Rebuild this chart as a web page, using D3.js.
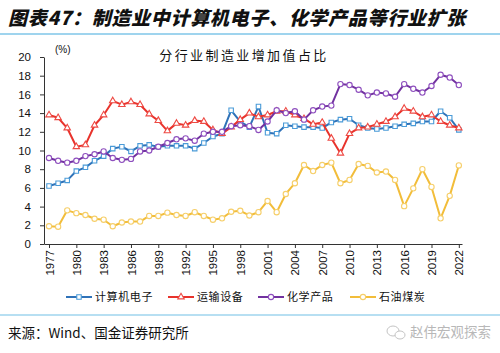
<!DOCTYPE html>
<html>
<head>
<meta charset="utf-8">
<script src="https://cdn.jsdelivr.net/npm/d3@7"></script>
<style>
  body { margin: 0; background: #fff; }
  svg { display: block; }
</style>
</head>
<body>
<div id="chart"></div>
<script>
(function() {

    // years on the x axis
    var years = d3.range(1977, 2023);
    var xTicks = d3.range(1977, 2023, 3);
    var yTicks = d3.range(0, 21, 2);

    // series values (%)
    var computer = [6.2, 6.5, 6.8, 7.8, 8.2, 8.9, 9.4, 10.2, 10.4, 9.9,
        10.5, 10.6, 10.4, 10.5, 10.5, 10.5, 10.2, 10.8, 11.5, 11.8,
        14.3, 13.1, 12.5, 14.7, 11.9, 11.8, 12.7, 12.6, 12.5, 12.5,
        12.4, 13.0, 13.3, 13.4, 12.7, 12.4, 12.3, 12.4, 12.6, 12.8,
        12.9, 13.1, 13.1, 14.2, 13.5, 12.2];
    var transport = [13.8, 13.5, 12.4, 10.4, 10.6, 12.7, 13.8, 15.3, 14.9, 15.2,
        14.9, 13.9, 13.2, 12.1, 12.9, 12.7, 13.2, 13.1, 12.2, 11.8,
        12.5, 13.3, 14.0, 13.6, 13.8, 14.2, 14.2, 13.8, 13.4, 12.8,
        13.0, 11.3, 9.7, 11.8, 12.4, 12.5, 12.8, 13.1, 13.6, 14.5,
        14.2, 13.6, 13.8, 13.1, 12.7, 12.4];
    var chemical = [9.2, 8.9, 8.7, 8.9, 9.4, 9.6, 9.9, 9.2, 9.0, 9.1,
        9.9, 10.0, 10.4, 10.8, 11.2, 11.3, 11.05, 11.8, 12.0, 12.0,
        12.6, 12.7, 12.6, 12.2, 13.1, 14.3, 14.0, 14.2, 13.3, 14.3,
        14.7, 14.8, 17.1, 17.0, 16.5, 15.9, 16.2, 16.1, 15.75, 17.1,
        16.6, 16.2, 16.9, 18.1, 17.8, 17.0];
    var petroleum = [1.9, 1.85, 3.6, 3.3, 3.1, 2.7, 2.6, 1.9, 2.3, 2.4,
        2.4, 3.0, 3.0, 3.35, 3.1, 3.0, 3.4, 3.0, 2.6, 2.75,
        3.45, 3.55, 3.05, 3.4, 4.6, 3.4, 5.35, 6.5, 8.45, 7.8,
        8.45, 8.7, 6.5, 6.85, 8.55, 8.35, 7.65, 7.75, 6.85, 4.05,
        5.95, 8.0, 6.1, 2.75, 5.15, 8.4];

    var seriesNames = ["计算机电子", "运输设备", "化学产品", "石油煤炭"];
    var seriesValues = [computer, transport, chemical, petroleum];
    var colors = ["#2f72b8", "#e8332c", "#7232a0", "#f2bd3a"];
    var markerColors = ["#4a9bd8", "#ee4a44", "#8e4fbe", "#f6cf6a"];
    var markerTypes = [d3.symbolSquare, d3.symbolTriangle, d3.symbolCircle, d3.symbolCircle];
    var markerSizes = [20, 18, 22, 22];

    var W = 500, H = 353;

    var svg = d3.select("#chart").append("svg")
        .attr("width", W)
        .attr("height", H);

    // header
    svg.append("text")
        .attr("x", 8)
        .attr("y", 25)
        .style("font-family", "'Noto Sans CJK SC', sans-serif")
        .style("font-size", "19px")
        .style("font-weight", "900")
        .style("font-style", "italic")
        .style("letter-spacing", "0.7px")
        .attr("fill", "#111")
        .text("图表47：制造业中计算机电子、化学产品等行业扩张");

    svg.append("line")
        .attr("x1", 0).attr("x2", W)
        .attr("y1", 34).attr("y2", 34)
        .attr("stroke", "#9fd4ee")
        .attr("stroke-width", 2);

    svg.append("line")
        .attr("x1", 0).attr("x2", W)
        .attr("y1", 315).attr("y2", 315)
        .attr("stroke", "#9fd4ee")
        .attr("stroke-width", 1.5);

    // scales; the domain is padded a little so the axis line overhangs the first/last year
    var x = d3.scaleLinear().domain([1976.45, 2022.35]).range([44, 462]);
    var y = d3.scaleLinear().domain([0, 20]).range([244, 57]);

    // x axis
    var gx = svg.append("g")
        .attr("transform", "translate(0," + y(0) + ")")
        .call(d3.axisBottom(x).tickValues(xTicks).tickFormat(d3.format("d")).tickSize(4).tickSizeOuter(0));
    gx.selectAll("text")
        .attr("transform", "rotate(-90)")
        .attr("x", -6)
        .attr("y", 0)
        .attr("dy", "0.35em")
        .style("text-anchor", "end");

    // y axis
    var gy = svg.append("g")
        .attr("transform", "translate(" + x.range()[0] + ",0)")
        .call(d3.axisLeft(y).tickValues(yTicks).tickSize(4).tickSizeOuter(0).tickPadding(9));

    svg.selectAll(".tick text")
        .style("font-family", "'Liberation Sans', Arial, sans-serif")
        .style("font-size", "11.5px")
        .attr("fill", "#111");
    svg.selectAll(".domain, .tick line").attr("stroke", "#333");

    svg.append("text")
        .attr("x", 55)
        .attr("y", 53)
        .style("font-family", "'Liberation Sans', Arial, sans-serif")
        .style("font-size", "10px")
        .attr("fill", "#111")
        .text("(%)");

    svg.append("text")
        .attr("x", 244)
        .attr("y", 60)
        .attr("text-anchor", "middle")
        .style("font-family", "'Noto Sans CJK SC', sans-serif")
        .style("font-size", "13px")
        .style("letter-spacing", "2.4px")
        .attr("fill", "#111")
        .text("分行业制造业增加值占比");

    var line = d3.line()
        .x(function(d, i) { return x(years[i]); })
        .y(function(d) { return y(d); });

    seriesValues.forEach(function(vals, k) {
        svg.append("path")
            .datum(vals)
            .attr("fill", "none")
            .attr("stroke", colors[k])
            .attr("stroke-width", 2)
            .attr("stroke-linejoin", "round")
            .attr("d", line);

        svg.selectAll(".m" + k)
            .data(vals)
            .enter().append("path")
            .attr("class", "m" + k)
            .attr("transform", function(d, i) { return "translate(" + x(years[i]) + "," + y(d) + ")"; })
            .attr("d", d3.symbol().type(markerTypes[k]).size(markerSizes[k]))
            .attr("fill", "#fff")
            .attr("stroke", markerColors[k])
            .attr("stroke-width", 1.1);
    });

    // legend
    var legendX = [66, 168, 258, 350];
    var legend = svg.selectAll(".legend")
        .data(seriesNames)
        .enter().append("g")
        .attr("class", "legend")
        .attr("transform", function(d, i) { return "translate(" + legendX[i] + ",297)"; });

    legend.append("line")
        .attr("x1", 0).attr("x2", 26)
        .attr("stroke", function(d, i) { return colors[i]; })
        .attr("stroke-width", 2);
    legend.append("path")
        .attr("transform", "translate(13,0)")
        .attr("d", function(d, i) { return d3.symbol().type(markerTypes[i]).size(markerSizes[i])(); })
        .attr("fill", "#fff")
        .attr("stroke", function(d, i) { return markerColors[i]; })
        .attr("stroke-width", 1.1);
    legend.append("text")
        .attr("x", 29)
        .attr("y", 4)
        .style("font-family", "'Noto Sans CJK SC', sans-serif")
        .style("font-size", "11px")
        .style("letter-spacing", "0.6px")
        .attr("fill", "#111")
        .text(function(d) { return d; });

    // footer
    svg.append("text")
        .attr("x", 8)
        .attr("y", 338)
        .style("font-family", "'Noto Sans CJK SC', sans-serif")
        .style("font-size", "13.5px")
        .attr("fill", "#111")
        .text("来源：Wind、国金证券研究所");

    // watermark
    var wm = svg.append("g").attr("transform", "translate(387,332)");
    wm.append("ellipse").attr("cx", 6).attr("cy", -1).attr("rx", 6).attr("ry", 5)
        .attr("fill", "none").attr("stroke", "#c4c4c4").attr("stroke-width", 1);
    wm.append("ellipse").attr("cx", 13).attr("cy", 3).attr("rx", 5).attr("ry", 4)
        .attr("fill", "#fff").attr("stroke", "#c4c4c4").attr("stroke-width", 1);
    wm.append("text")
        .attr("x", 23)
        .attr("y", 5)
        .style("font-family", "'Noto Sans CJK SC', sans-serif")
        .style("font-size", "13.5px")
        .attr("fill", "#b8b8b8")
        .text("赵伟宏观探索");

})();
</script>
</body>
</html>
